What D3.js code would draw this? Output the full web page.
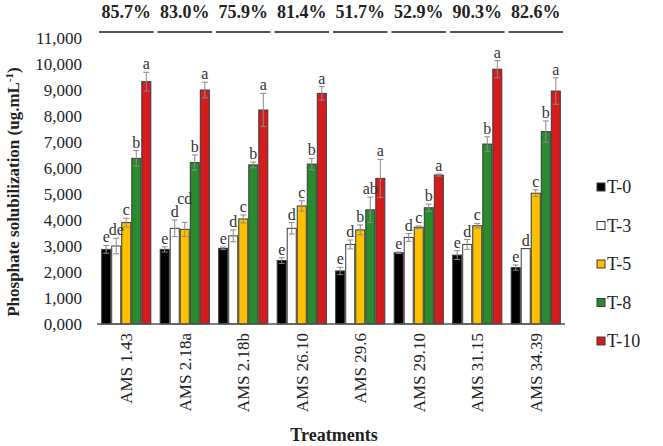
<!DOCTYPE html>
<html><head><meta charset="utf-8">
<script src="https://cdn.jsdelivr.net/npm/d3@7"></script>
<style>html,body{margin:0;padding:0;background:#fff;}svg{display:block;}</style>
</head><body>
<svg id="chart" width="663" height="446"></svg>
<script>
const categories = ["AMS 1.43","AMS 2.18a","AMS 2.18b","AMS 26.10","AMS 29.6","AMS 29.10","AMS 31.15","AMS 34.39"];
const percentages = ["85.7%","83.0%","75.9%","81.4%","51.7%","52.9%","90.3%","82.6%"];
const seriesNames = ["T-0","T-3","T-5","T-8","T-10"];
const T0  = [2870, 2870, 2910, 2440, 2040, 2740, 2650, 2170];
const T3  = [3000, 3680, 3390, 3680, 3060, 3330, 3060, 2900];
const T5  = [3900, 3640, 4040, 4540, 3620, 3720, 3780, 5030];
const T8  = [6370, 6210, 6120, 6150, 4390, 4470, 6920, 7400];
const T10 = [9320, 9000, 8230, 8870, 5600, 5730, 9800, 8960];
const E0  = [150, 100, 50, 110, 140, 30, 170, 100];
const E3  = [300, 320, 230, 220, 170, 150, 190, 0];
const E5  = [170, 270, 150, 200, 190, 50, 90, 130];
const E8  = [300, 290, 110, 220, 490, 140, 280, 410];
const E10 = [360, 300, 640, 260, 730, 40, 330, 510];
const L0  = ["e","e","e","e","e","e","e","e"];
const L3  = ["de","d","d","d","d","d","d","d"];
const L5  = ["c","cd","c","c","b","c","c","c"];
const L8  = ["b","b","b","b","ab","b","b","b"];
const L10 = ["a","a","a","a","a","a","a","a"];
const yTickValues = [0,1000,2000,3000,4000,5000,6000,7000,8000,9000,10000,11000];
const yTickLabels = ["0,000","1,000","2,000","3,000","4,000","5,000","6,000","7,000","8,000","9,000","10,000","11,000"];
const colors = ["#000000","#ffffff","#ffc000","#2a8a2e","#d41c1c"];

const values = [T0,T3,T5,T8,T10];
const errors = [E0,E3,E5,E8,E10];
const letters = [L0,L3,L5,L8,L10];

const svg = d3.select("#chart");
const font = "'Liberation Serif','Times New Roman',serif";
const x0 = d3.scaleBand().domain(categories).range([97, 565]).paddingInner(0.16).paddingOuter(0.08);
const x1 = d3.scaleBand().domain(seriesNames).range([0, x0.bandwidth()]).paddingInner(0.1);
const y = d3.scaleLinear().domain([0, 11000]).range([324, 38]);
const cx = d => x0(d.c) + x1(d.s) + x1.bandwidth()/2;

// y tick labels
const yAxis = d3.axisLeft(y).tickValues(yTickValues).tickSize(0).tickPadding(0)
  .tickFormat((d,i) => yTickLabels[i]);
const gy = svg.append("g").attr("transform","translate(82,0)").call(yAxis);
gy.select(".domain").remove();
gy.selectAll("text").attr("font-family", font).attr("font-size", 17).attr("fill", "#222");

// bars
const data = [];
categories.forEach((c, ci) => seriesNames.forEach((s, si) => data.push({c, ci, s, si, v: values[si][ci], e: errors[si][ci], l: letters[si][ci]})));
const g = svg.append("g");
g.selectAll("rect.bar").data(data).join("rect").attr("class","bar")
  .attr("x", d => x0(d.c) + x1(d.s)).attr("width", x1.bandwidth())
  .attr("y", d => y(d.v)).attr("height", d => y(0) - y(d.v))
  .attr("fill", d => colors[d.si]).attr("stroke", "#3a3a3a").attr("stroke-width", 1);

// error bars
const eb = g.selectAll("g.err").data(data.filter(d => d.e > 0)).join("g").attr("class","err")
  .attr("stroke", "#8a8a8a").attr("stroke-width", 1);
eb.append("line").attr("x1", cx).attr("x2", cx)
  .attr("y1", d => y(d.v + d.e)).attr("y2", d => y(d.v - d.e));
eb.append("line").attr("x1", d => cx(d) - 3).attr("x2", d => cx(d) + 3)
  .attr("y1", d => y(d.v + d.e)).attr("y2", d => y(d.v + d.e));
eb.append("line").attr("x1", d => cx(d) - 3).attr("x2", d => cx(d) + 3)
  .attr("y1", d => y(d.v - d.e)).attr("y2", d => y(d.v - d.e));

// letters, nudged upward when they would collide with the neighbour's letter
const lbl = g.selectAll("text.lbl").data(data).join("text").attr("class","lbl")
  .attr("x", cx)
  .attr("y", d => y(d.v + d.e) - 3)
  .attr("text-anchor","middle").attr("font-family", font).attr("font-size", 16).attr("fill", "#333")
  .text(d => d.l);
const nodes = lbl.nodes();
for (let i = 1; i < nodes.length; i++) {
  const a = nodes[i-1].__data__, b = nodes[i].__data__;
  if (a.ci !== b.ci) continue;
  const ba = nodes[i-1].getBBox(), bb = nodes[i].getBBox();
  const hOverlap = Math.min(ba.x + ba.width, bb.x + bb.width) - Math.max(ba.x, bb.x);
  const vOverlap = Math.min(ba.y + ba.height, bb.y + bb.height) - Math.max(ba.y, bb.y);
  if (hOverlap > 0.5 && vOverlap > 10) {
    const ya = +nodes[i-1].getAttribute("y");
    nodes[i].setAttribute("y", Math.min(+nodes[i].getAttribute("y"), ya - 13));
  }
}

// x axis line
svg.append("line").attr("x1", 97).attr("x2", 565).attr("y1", y(0)).attr("y2", y(0))
  .attr("stroke", "#555").attr("stroke-width", 1.5);

// x labels
svg.selectAll("text.xl").data(categories).join("text").attr("class","xl")
  .attr("transform", d => `translate(${x0(d) + x0.bandwidth()/2},333) rotate(-90)`)
  .attr("dy", "0.35em").attr("text-anchor","end")
  .attr("font-family", font).attr("font-size", 17).attr("fill", "#222").text(d => d);

// percentages
svg.selectAll("text.pct").data(categories).join("text").attr("class","pct")
  .attr("x", d => x0(d) + x0.bandwidth()/2).attr("y", 18)
  .attr("text-anchor","middle").attr("font-family", font).attr("font-weight","bold").attr("font-size", 18).attr("fill","#222")
  .text((d,i) => percentages[i]);
svg.selectAll("line.pl").data(categories).join("line").attr("class","pl")
  .attr("x1", d => x0(d) - x0.step()*x0.paddingInner()/2 + 2).attr("x2", d => x0(d) + x0.bandwidth() + x0.step()*x0.paddingInner()/2 - 2)
  .attr("y1", 32).attr("y2", 32).attr("stroke","#555").attr("stroke-width", 2);

// axis titles
svg.append("text").attr("transform","translate(19,192) rotate(-90)").attr("text-anchor","middle")
  .attr("font-family", font).attr("font-weight","bold").attr("font-size", 17).attr("fill","#222")
  .call(t => { t.append("tspan").text("Phosphate solubilization (ug.mL");
               t.append("tspan").attr("dy", -6).attr("font-size", 11).text("-1");
               t.append("tspan").attr("dy", 6).text(")"); });
svg.append("text").attr("x", 334).attr("y", 441).attr("text-anchor","middle")
  .attr("font-family", font).attr("font-weight","bold").attr("font-size", 18).attr("fill","#222").text("Treatments");

// legend
const lg = svg.selectAll("g.leg").data(seriesNames).join("g").attr("class","leg")
  .attr("transform", (d,i) => `translate(597,${187 + i*38.5})`);
lg.append("rect").attr("x", 0).attr("y", -4).attr("width", 8).attr("height", 8)
  .attr("fill", (d,i) => colors[i]).attr("stroke", "#3a3a3a").attr("stroke-width", 1);
lg.append("text").attr("x", 10).attr("y", 0).attr("dy","0.35em")
  .attr("font-family", font).attr("font-size", 18).attr("fill","#222").text(d => d);
</script>
</body></html>
